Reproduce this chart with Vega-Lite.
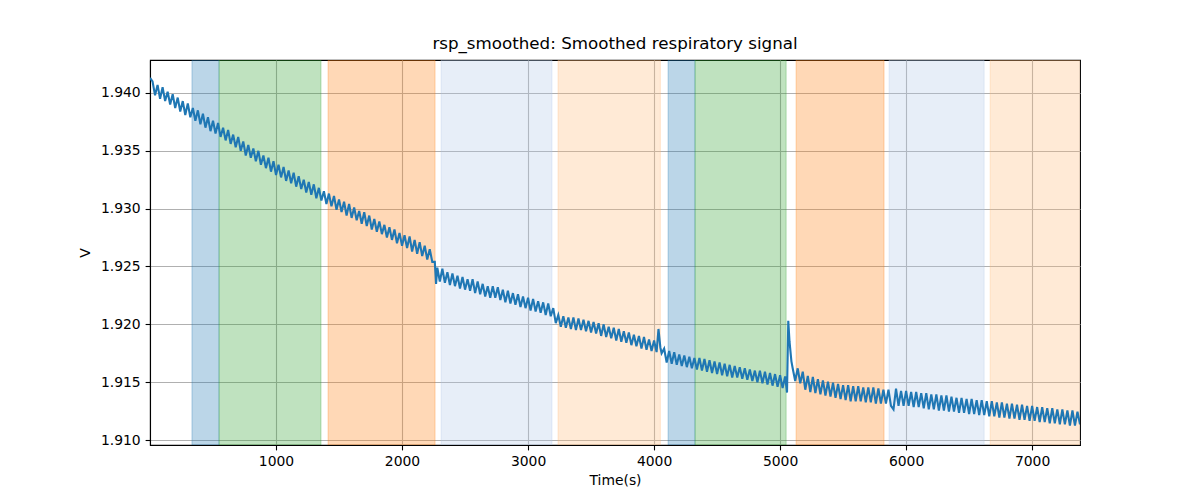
{
  "$schema": "https://vega.github.io/schema/vega-lite/v6.json",
  "width": 930,
  "height": 385,
  "autosize": "none",
  "padding": {"left": 150, "top": 60, "right": 120, "bottom": 55},
  "background": "white",
  "config": {
    "view": {"stroke": "black", "strokeWidth": 1.1},
    "font": "DejaVu Sans",
    "axis": {
      "domainColor": "black", "domainWidth": 1.1, "tickColor": "black", "tickSize": 4.9, "tickWidth": 1.1,
      "labelFontSize": 13.9, "labelColor": "black", "labelPadding": 4.9, "labelFont": "DejaVu Sans",
      "titleFontSize": 13.9, "titleFontWeight": "normal", "titleColor": "black", "titleFont": "DejaVu Sans",
      "gridColor": "#b0b0b0", "gridWidth": 1.1
    }
  },
  "title": {"text": "rsp_smoothed: Smoothed respiratory signal", "font": "DejaVu Sans", "fontSize": 16.7, "fontWeight": "normal", "color": "black", "anchor": "middle", "offset": 7},
  "datasets": {
    "spans": [
      {"start": 333, "end": 548, "kind": "a"},
      {"start": 548, "end": 1357, "kind": "b"},
      {"start": 1413, "end": 2262, "kind": "c"},
      {"start": 2310, "end": 3190, "kind": "d"},
      {"start": 3238, "end": 4050, "kind": "e"},
      {"start": 4111, "end": 4325, "kind": "a"},
      {"start": 4325, "end": 5048, "kind": "b"},
      {"start": 5127, "end": 5825, "kind": "c"},
      {"start": 5865, "end": 6619, "kind": "d"},
      {"start": 6667, "end": 7400, "kind": "e"}
    ],
    "sig": [
      {"t":0,"v":1.9413},{"t":20,"v":1.9410},{"t":40,"v":1.9398},{"t":60,"v":1.9407},{"t":80,"v":1.9395},{"t":100,"v":1.9405},{"t":120,"v":1.9393},{"t":140,"v":1.9401},{"t":160,"v":1.9390},{"t":180,"v":1.9399},{"t":200,"v":1.9387},{"t":220,"v":1.9396},{"t":240,"v":1.9384},{"t":260,"v":1.9393},{"t":280,"v":1.9381},{"t":300,"v":1.9391},{"t":320,"v":1.9379},{"t":340,"v":1.9387},{"t":360,"v":1.9376},{"t":380,"v":1.9385},{"t":400,"v":1.9373},{"t":420,"v":1.9382},{"t":440,"v":1.9370},{"t":460,"v":1.9379},{"t":480,"v":1.9367},{"t":500,"v":1.9376},
      {"t":520,"v":1.9365},{"t":540,"v":1.9374},{"t":560,"v":1.9362},{"t":580,"v":1.9370},{"t":600,"v":1.9359},{"t":620,"v":1.9368},{"t":640,"v":1.9356},{"t":660,"v":1.9364},{"t":680,"v":1.9353},{"t":700,"v":1.9362},{"t":720,"v":1.9350},{"t":740,"v":1.9358},{"t":760,"v":1.9346},{"t":780,"v":1.9355},{"t":800,"v":1.9344},{"t":820,"v":1.9352},{"t":840,"v":1.9341},{"t":860,"v":1.9350},{"t":880,"v":1.9338},{"t":900,"v":1.9346},{"t":920,"v":1.9335},{"t":940,"v":1.9344},{"t":960,"v":1.9332},{"t":980,"v":1.9341},{"t":1000,"v":1.9329},
      {"t":1020,"v":1.9338},{"t":1040,"v":1.9327},{"t":1060,"v":1.9336},{"t":1080,"v":1.9324},{"t":1100,"v":1.9333},{"t":1120,"v":1.9322},{"t":1140,"v":1.9331},{"t":1160,"v":1.9319},{"t":1180,"v":1.9328},{"t":1200,"v":1.9317},{"t":1220,"v":1.9325},{"t":1240,"v":1.9314},{"t":1260,"v":1.9323},{"t":1280,"v":1.9312},{"t":1300,"v":1.9321},{"t":1320,"v":1.9309},{"t":1340,"v":1.9318},{"t":1360,"v":1.9307},{"t":1380,"v":1.9315},{"t":1400,"v":1.9304},{"t":1420,"v":1.9313},{"t":1440,"v":1.9302},{"t":1460,"v":1.9311},{"t":1480,"v":1.9299},{"t":1500,"v":1.9308},
      {"t":1520,"v":1.9297},{"t":1540,"v":1.9306},{"t":1560,"v":1.9294},{"t":1580,"v":1.9304},{"t":1600,"v":1.9292},{"t":1620,"v":1.9301},{"t":1640,"v":1.9290},{"t":1660,"v":1.9298},{"t":1680,"v":1.9287},{"t":1700,"v":1.9297},{"t":1720,"v":1.9285},{"t":1740,"v":1.9294},{"t":1760,"v":1.9282},{"t":1780,"v":1.9291},{"t":1800,"v":1.9280},{"t":1820,"v":1.9289},{"t":1840,"v":1.9278},{"t":1860,"v":1.9286},{"t":1880,"v":1.9275},{"t":1900,"v":1.9284},{"t":1920,"v":1.9273},{"t":1940,"v":1.9282},{"t":1960,"v":1.9270},{"t":1980,"v":1.9279},{"t":2000,"v":1.9268},
      {"t":2020,"v":1.9277},{"t":2040,"v":1.9266},{"t":2060,"v":1.9276},{"t":2080,"v":1.9263},{"t":2100,"v":1.9273},{"t":2120,"v":1.9261},{"t":2140,"v":1.9271},{"t":2160,"v":1.9259},{"t":2180,"v":1.9268},{"t":2200,"v":1.9256},{"t":2220,"v":1.9265},{"t":2240,"v":1.9254},{"t":2260,"v":1.9254},{"t":2270,"v":1.9235},{"t":2280,"v":1.9249},
      {"t":2300,"v":1.9237},{"t":2320,"v":1.9248},{"t":2340,"v":1.9236},{"t":2360,"v":1.9245},{"t":2380,"v":1.9234},{"t":2400,"v":1.9244},{"t":2420,"v":1.9233},{"t":2440,"v":1.9242},{"t":2460,"v":1.9231},{"t":2480,"v":1.9241},{"t":2500,"v":1.9230},
      {"t":2520,"v":1.9239},{"t":2540,"v":1.9229},{"t":2560,"v":1.9239},{"t":2580,"v":1.9227},{"t":2600,"v":1.9237},{"t":2620,"v":1.9226},{"t":2640,"v":1.9235},{"t":2660,"v":1.9224},{"t":2680,"v":1.9233},{"t":2700,"v":1.9223},{"t":2720,"v":1.9233},{"t":2740,"v":1.9223},{"t":2760,"v":1.9232},{"t":2780,"v":1.9221},{"t":2800,"v":1.9230},{"t":2820,"v":1.9219},{"t":2840,"v":1.9229},{"t":2860,"v":1.9218},{"t":2880,"v":1.9227},{"t":2900,"v":1.9217},{"t":2920,"v":1.9226},{"t":2940,"v":1.9215},{"t":2960,"v":1.9224},{"t":2980,"v":1.9214},{"t":3000,"v":1.9223},
      {"t":3020,"v":1.9212},{"t":3040,"v":1.9222},{"t":3060,"v":1.9211},{"t":3080,"v":1.9220},{"t":3100,"v":1.9210},{"t":3120,"v":1.9219},{"t":3140,"v":1.9208},{"t":3160,"v":1.9218},{"t":3180,"v":1.9207},{"t":3200,"v":1.9214},{"t":3220,"v":1.9201},{"t":3240,"v":1.9208},
      {"t":3260,"v":1.9198},{"t":3280,"v":1.9207},{"t":3300,"v":1.9197},{"t":3320,"v":1.9206},{"t":3340,"v":1.9196},{"t":3360,"v":1.9206},{"t":3380,"v":1.9195},{"t":3400,"v":1.9205},{"t":3420,"v":1.9195},{"t":3440,"v":1.9204},{"t":3460,"v":1.9194},{"t":3480,"v":1.9203},{"t":3500,"v":1.9193},
      {"t":3520,"v":1.9202},{"t":3540,"v":1.9192},{"t":3560,"v":1.9201},{"t":3580,"v":1.9190},{"t":3600,"v":1.9200},{"t":3620,"v":1.9189},{"t":3640,"v":1.9198},{"t":3660,"v":1.9188},{"t":3680,"v":1.9197},{"t":3700,"v":1.9186},{"t":3720,"v":1.9196},{"t":3740,"v":1.9185},{"t":3760,"v":1.9194},{"t":3780,"v":1.9184},{"t":3800,"v":1.9193},{"t":3820,"v":1.9182},{"t":3840,"v":1.9191},{"t":3860,"v":1.9181},{"t":3880,"v":1.9190},{"t":3900,"v":1.9179},{"t":3920,"v":1.9189},{"t":3940,"v":1.9178},{"t":3960,"v":1.9187},{"t":3980,"v":1.9177},{"t":4000,"v":1.9186},
      {"t":4020,"v":1.9176},{"t":4035,"v":1.9196},{"t":4050,"v":1.9180},{"t":4060,"v":1.9175},{"t":4080,"v":1.9179},{"t":4100,"v":1.9167},
      {"t":4120,"v":1.9177},{"t":4140,"v":1.9166},{"t":4160,"v":1.9176},{"t":4180,"v":1.9165},{"t":4200,"v":1.9174},{"t":4220,"v":1.9164},{"t":4240,"v":1.9173},{"t":4260,"v":1.9163},{"t":4280,"v":1.9172},{"t":4300,"v":1.9162},{"t":4320,"v":1.9171},{"t":4340,"v":1.9161},{"t":4360,"v":1.9171},{"t":4380,"v":1.9160},{"t":4400,"v":1.9170},{"t":4420,"v":1.9159},{"t":4440,"v":1.9169},{"t":4460,"v":1.9158},{"t":4480,"v":1.9168},{"t":4500,"v":1.9157},
      {"t":4520,"v":1.9167},{"t":4540,"v":1.9156},{"t":4560,"v":1.9166},{"t":4580,"v":1.9155},{"t":4600,"v":1.9165},{"t":4620,"v":1.9154},{"t":4640,"v":1.9164},{"t":4660,"v":1.9154},{"t":4680,"v":1.9163},{"t":4700,"v":1.9153},{"t":4720,"v":1.9162},{"t":4740,"v":1.9152},{"t":4760,"v":1.9161},{"t":4780,"v":1.9151},{"t":4800,"v":1.9160},{"t":4820,"v":1.9150},{"t":4840,"v":1.9160},{"t":4860,"v":1.9149},{"t":4880,"v":1.9159},{"t":4900,"v":1.9148},{"t":4920,"v":1.9158},{"t":4940,"v":1.9147},{"t":4960,"v":1.9157},{"t":4980,"v":1.9146},{"t":5000,"v":1.9156},
      {"t":5020,"v":1.9145},{"t":5040,"v":1.9155},{"t":5055,"v":1.9141},{"t":5065,"v":1.9203},{"t":5075,"v":1.9185},{"t":5090,"v":1.9168},{"t":5100,"v":1.9162},{"t":5120,"v":1.9151},{"t":5140,"v":1.9162},{"t":5160,"v":1.9149},{"t":5180,"v":1.9159},
      {"t":5200,"v":1.91435},{"t":5220,"v":1.91555},{"t":5240,"v":1.91415},{"t":5260,"v":1.91545},{"t":5280,"v":1.91405},{"t":5300,"v":1.91525},{"t":5320,"v":1.91395},{"t":5340,"v":1.91515},{"t":5360,"v":1.91385},{"t":5380,"v":1.91505},{"t":5400,"v":1.91375},{"t":5420,"v":1.91495},{"t":5440,"v":1.91365},{"t":5460,"v":1.91485},{"t":5480,"v":1.91355},{"t":5500,"v":1.91475},
      {"t":5520,"v":1.91345},{"t":5540,"v":1.91475},{"t":5560,"v":1.91335},{"t":5580,"v":1.91465},{"t":5600,"v":1.91335},{"t":5620,"v":1.91465},{"t":5640,"v":1.91335},{"t":5660,"v":1.91455},{"t":5680,"v":1.91325},{"t":5700,"v":1.91455},{"t":5720,"v":1.91325},{"t":5740,"v":1.91455},{"t":5760,"v":1.91315},{"t":5780,"v":1.91445},{"t":5800,"v":1.91315},{"t":5820,"v":1.91435},{"t":5840,"v":1.91315},{"t":5860,"v":1.91435},{"t":5880,"v":1.91295},{"t":5900,"v":1.91265},{"t":5920,"v":1.91445},{"t":5940,"v":1.91295},{"t":5960,"v":1.91425},{"t":5980,"v":1.91295},{"t":6000,"v":1.91425},
      {"t":6020,"v":1.91295},{"t":6040,"v":1.91415},{"t":6060,"v":1.91285},{"t":6080,"v":1.91415},{"t":6100,"v":1.91285},{"t":6120,"v":1.91405},{"t":6140,"v":1.91275},{"t":6160,"v":1.91405},{"t":6180,"v":1.91265},{"t":6200,"v":1.91395},{"t":6220,"v":1.91265},{"t":6240,"v":1.91395},{"t":6260,"v":1.91255},{"t":6280,"v":1.91385},{"t":6300,"v":1.91255},{"t":6320,"v":1.91385},{"t":6340,"v":1.91245},{"t":6360,"v":1.91375},{"t":6380,"v":1.91245},{"t":6400,"v":1.91365},{"t":6420,"v":1.91235},{"t":6440,"v":1.91365},{"t":6460,"v":1.91235},{"t":6480,"v":1.91355},{"t":6500,"v":1.91225},
      {"t":6520,"v":1.91355},{"t":6540,"v":1.91225},{"t":6560,"v":1.91345},{"t":6580,"v":1.91215},{"t":6600,"v":1.91345},{"t":6620,"v":1.91215},{"t":6640,"v":1.91335},{"t":6660,"v":1.91205},{"t":6680,"v":1.91335},{"t":6700,"v":1.91205},{"t":6720,"v":1.91325},{"t":6740,"v":1.91195},{"t":6760,"v":1.91325},{"t":6780,"v":1.91195},{"t":6800,"v":1.91315},{"t":6820,"v":1.91185},{"t":6840,"v":1.91315},{"t":6860,"v":1.91185},{"t":6880,"v":1.91305},{"t":6900,"v":1.91175},{"t":6920,"v":1.91305},{"t":6940,"v":1.91175},{"t":6960,"v":1.91295},{"t":6980,"v":1.91165},{"t":7000,"v":1.91295},
      {"t":7020,"v":1.91165},{"t":7040,"v":1.91285},{"t":7060,"v":1.91155},{"t":7080,"v":1.91285},{"t":7100,"v":1.91155},{"t":7120,"v":1.91275},{"t":7140,"v":1.91145},{"t":7160,"v":1.91275},{"t":7180,"v":1.91145},{"t":7200,"v":1.91265},{"t":7220,"v":1.91135},{"t":7240,"v":1.91265},{"t":7260,"v":1.91135},{"t":7280,"v":1.91255},{"t":7300,"v":1.91125},{"t":7320,"v":1.91255},{"t":7340,"v":1.91125},{"t":7360,"v":1.91245},{"t":7380,"v":1.91135}
    ]
  },
  "layer": [
    {
      "data": {"name": "spans"},
      "mark": {"type": "rect", "fillOpacity": 0.3, "strokeOpacity": 0.3, "strokeWidth": 1, "clip": true},
      "encoding": {
        "x": {"field": "start", "type": "quantitative", "scale": {"domain": [0, 7380], "nice": false, "zero": false},
          "axis": {"values": [1000, 2000, 3000, 4000, 5000, 6000, 7000], "format": "d", "title": "Time(s)", "titlePadding": 5, "grid": true}},
        "x2": {"field": "end"},
        "color": {"field": "kind", "type": "nominal", "legend": null,
          "scale": {"domain": ["a", "b", "c", "d", "e"], "range": ["#1f77b4", "#2ca02c", "#ff7f0e", "#aec7e8", "#ffbb78"]}},
        "stroke": {"field": "kind", "type": "nominal", "legend": null,
          "scale": {"domain": ["a", "b", "c", "d", "e"], "range": ["#1f77b4", "#2ca02c", "#ff7f0e", "#aec7e8", "#ffbb78"]}}
      }
    },
    {
      "data": {"name": "sig"},
      "mark": {"type": "line", "color": "#1f77b4", "strokeWidth": 2.1, "clip": true},
      "encoding": {
        "x": {"field": "t", "type": "quantitative"},
        "y": {"field": "v", "type": "quantitative", "scale": {"domain": [1.90957, 1.94285], "nice": false, "zero": false},
          "axis": {"values": [1.91, 1.915, 1.92, 1.925, 1.93, 1.935, 1.94], "format": ".3f", "title": "V", "titlePadding": 8, "grid": true}}
      }
    }
  ]
}
